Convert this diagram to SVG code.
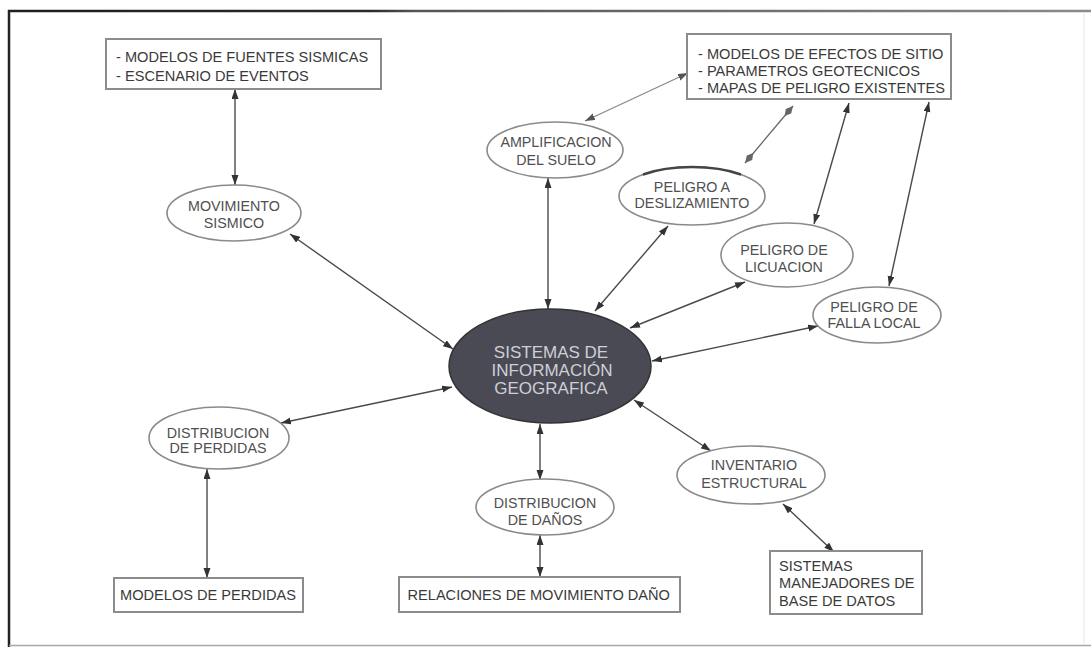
<svg xmlns="http://www.w3.org/2000/svg" width="1091" height="647" viewBox="0 0 1091 647">
<defs>
<style>
.box{fill:#fff;stroke:#8c8c8c;stroke-width:2}
.ell{fill:#fff;stroke:#8a8a8a;stroke-width:1.6}
.bt{font-family:"Liberation Sans",Arial,sans-serif;font-size:14.6px;fill:#3a3a3a}
.et{font-family:"Liberation Sans",Arial,sans-serif;font-size:14.3px;fill:#505050;text-anchor:middle}
.ct{font-family:"Liberation Sans",Arial,sans-serif;font-size:17px;fill:#cfcfd6;text-anchor:middle}
.ln{stroke:#4a4a4a;stroke-width:1.4;fill:none;marker-start:url(#ah);marker-end:url(#ah)}
.lg{stroke:#8a8a8a;stroke-width:1.3;fill:none;marker-start:url(#ahg);marker-end:url(#ahg)}
.ld{stroke:#666;stroke-width:1.3;fill:none;marker-start:url(#dm);marker-end:url(#dm)}
</style>
<marker id="ah" markerUnits="userSpaceOnUse" markerWidth="10" markerHeight="8" refX="10" refY="3.5" orient="auto-start-reverse">
<path d="M0,0 L10,3.5 L0,7 z" fill="#333"/>
</marker>
<marker id="ahg" markerUnits="userSpaceOnUse" markerWidth="10" markerHeight="8" refX="10" refY="3.5" orient="auto-start-reverse">
<path d="M0,0 L10,3.5 L0,7 z" fill="#555"/>
</marker>
<marker id="dm" markerUnits="userSpaceOnUse" markerWidth="14" markerHeight="8" refX="13" refY="3.5" orient="auto-start-reverse">
<path d="M0,3.5 L6,0 L13,3.5 L6,7 z" fill="#666"/>
</marker>
<linearGradient id="tg" gradientUnits="userSpaceOnUse" x1="0" y1="11" x2="1091" y2="11">
<stop offset="0" stop-color="#1e1e1e"/>
<stop offset="0.34" stop-color="#2a2a2a"/>
<stop offset="0.38" stop-color="#555"/>
<stop offset="1" stop-color="#8a8a8a"/>
</linearGradient>
</defs>
<rect x="0" y="0" width="1091" height="647" fill="#fff"/>
<g id="frame">
<line x1="8" y1="11" x2="1091" y2="11" stroke="url(#tg)" stroke-width="2.5"/>
<line x1="9" y1="10" x2="9" y2="647" stroke="#222" stroke-width="2.5"/>
<line x1="9" y1="645.5" x2="1091" y2="645.5" stroke="#a8a8a8" stroke-width="1.5"/>
<line x1="1084" y1="12" x2="1084" y2="645" stroke="#e6e6e6" stroke-width="1"/>
</g>
<g id="connectors">
<line class="ln" x1="235" y1="89" x2="235" y2="185"/>
<line class="ln" x1="290" y1="234" x2="453" y2="349"/>
<line class="lg" x1="585" y1="121" x2="688" y2="73"/>
<line class="ln" x1="548" y1="178" x2="548" y2="309"/>
<line class="ld" x1="745" y1="163" x2="793" y2="106"/>
<line class="ln" x1="668" y1="226" x2="595" y2="311"/>
<line class="ln" x1="814" y1="224" x2="849" y2="103"/>
<line class="ln" x1="745" y1="282" x2="630" y2="328"/>
<line class="ln" x1="889" y1="286" x2="929" y2="102"/>
<line class="ln" x1="818" y1="326" x2="652" y2="361"/>
<line class="ln" x1="281" y1="423" x2="452" y2="387"/>
<line class="ln" x1="207" y1="469" x2="207" y2="578"/>
<line class="ln" x1="540" y1="424" x2="540" y2="480"/>
<line class="ln" x1="540" y1="535" x2="540" y2="577"/>
<line class="ln" x1="634" y1="400" x2="711" y2="451"/>
<line class="ln" x1="783" y1="504" x2="834" y2="552"/>
</g>
<g id="n-fuentes">
<rect class="box" x="106" y="39" width="275" height="50"/>
<text class="bt" x="116" y="62">- MODELOS DE FUENTES SISMICAS</text>
<text class="bt" x="116" y="81">- ESCENARIO DE EVENTOS</text>
</g>
<g id="n-efectos">
<rect class="box" x="687" y="34" width="264" height="65"/>
<text class="bt" x="698" y="58.5">- MODELOS DE EFECTOS DE SITIO</text>
<text class="bt" x="698" y="76">- PARAMETROS GEOTECNICOS</text>
<text class="bt" x="698" y="92.5">- MAPAS DE PELIGRO EXISTENTES</text>
</g>
<g id="n-movimiento">
<ellipse class="ell" cx="234" cy="213" rx="67" ry="28"/>
<text class="et" x="234" y="211">MOVIMIENTO</text>
<text class="et" x="234" y="228">SISMICO</text>
</g>
<g id="n-amplificacion">
<ellipse class="ell" cx="555" cy="150" rx="68" ry="28"/>
<text class="et" x="556" y="147">AMPLIFICACION</text>
<text class="et" x="556" y="165">DEL SUELO</text>
</g>
<g id="n-deslizamiento">
<ellipse class="ell" cx="692" cy="196" rx="73" ry="29"/>
<path d="M643,174.5 A73,29 0 0 1 741,174.5" fill="none" stroke="#444" stroke-width="2.4"/>
<text class="et" x="692" y="191.5">PELIGRO A</text>
<text class="et" x="692" y="208">DESLIZAMIENTO</text>
</g>
<g id="n-licuacion">
<ellipse class="ell" cx="787" cy="255" rx="66" ry="32"/>
<text class="et" x="784" y="255">PELIGRO DE</text>
<text class="et" x="784" y="272">LICUACION</text>
</g>
<g id="n-falla">
<ellipse class="ell" cx="877" cy="315" rx="64" ry="28"/>
<text class="et" x="874" y="312">PELIGRO DE</text>
<text class="et" x="874" y="328">FALLA LOCAL</text>
</g>
<g id="n-sig">
<ellipse cx="550" cy="366" rx="101" ry="57" fill="#4a4a55" stroke="#333" stroke-width="1.5"/>
<text class="ct" x="551" y="358">SISTEMAS DE</text>
<text class="ct" x="552" y="376">INFORMACIÓN</text>
<text class="ct" x="551" y="394">GEOGRAFICA</text>
</g>
<g id="n-perdidas">
<ellipse class="ell" cx="219" cy="438" rx="70" ry="31"/>
<text class="et" x="218" y="438">DISTRIBUCION</text>
<text class="et" x="218" y="453">DE PERDIDAS</text>
</g>
<g id="n-danos">
<ellipse class="ell" cx="545" cy="507" rx="69" ry="28"/>
<text class="et" x="545" y="508">DISTRIBUCION</text>
<text class="et" x="545" y="525">DE DAÑOS</text>
</g>
<g id="n-inventario">
<ellipse class="ell" cx="751" cy="475" rx="74" ry="29"/>
<text class="et" x="754" y="470">INVENTARIO</text>
<text class="et" x="754" y="488">ESTRUCTURAL</text>
</g>
<g id="n-modelos-perdidas">
<rect class="box" x="114" y="578" width="189" height="34"/>
<text class="bt" x="120" y="600">MODELOS DE PERDIDAS</text>
</g>
<g id="n-relaciones">
<rect class="box" x="399" y="577" width="281" height="35"/>
<text class="bt" x="407.5" y="600">RELACIONES DE MOVIMIENTO DAÑO</text>
</g>
<g id="n-sistemas">
<rect class="box" x="770" y="551" width="152" height="63"/>
<text class="bt" x="779" y="571">SISTEMAS</text>
<text class="bt" x="779" y="588">MANEJADORES DE</text>
<text class="bt" x="779" y="606">BASE DE DATOS</text>
</g>
</svg>
